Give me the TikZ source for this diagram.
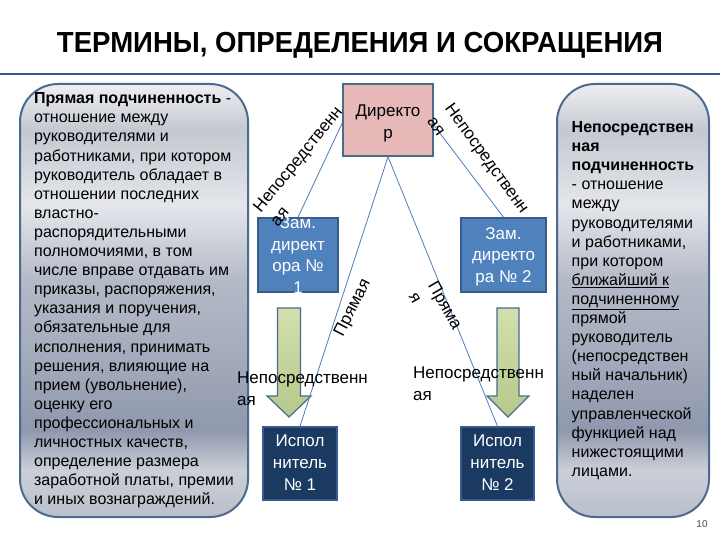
\documentclass[tikz,border=0pt]{standalone}
\usepackage{fontspec}
\setmainfont{Liberation Sans}
\usepackage{graphicx}
\definecolor{boxborder}{HTML}{4A6A8E}
\definecolor{dirfill}{HTML}{E6B9B8}
\definecolor{zamfill}{HTML}{4F81BD}
\definecolor{zamdraw}{HTML}{385D8A}
\definecolor{ispfill}{HTML}{1B3A62}
\definecolor{linkcol}{HTML}{4A7EBB}
\definecolor{arrowtop}{HTML}{D3DFAE}
\definecolor{arrowbot}{HTML}{B5C98A}
\definecolor{rulecol}{HTML}{35598A}
\definecolor{mA}{HTML}{B9BFCB}
\definecolor{mB}{HTML}{CBCFD8}
\definecolor{mC}{HTML}{8F98AD}
\definecolor{mD}{HTML}{A3AABB}
\definecolor{mE}{HTML}{B4BAC7}
\definecolor{mF}{HTML}{E4E6EB}
\definecolor{mG}{HTML}{C4C8D0}
\definecolor{mH}{HTML}{EEEFF2}
\pgfdeclareverticalshading{metal}{100bp}{color(0bp)=(mA); color(25bp)=(mA); color(30.4bp)=(mB); color(35bp)=(mC); color(43.1bp)=(mD); color(52.4bp)=(mE); color(61bp)=(mF); color(69.7bp)=(mG); color(75bp)=(mH); color(100bp)=(mH)}
\newcommand\boxlines[2][-6pt]{\raisebox{#1}[0pt][0pt]{\begin{tabular}{@{}c@{}}#2\end{tabular}}}
\tikzset{
 sidebox/.style={draw=boxborder, line width=2pt, rounded corners=38pt, shade, shading=metal, align=left, font=\fontsize{16}{19.1}\selectfont, inner sep=0pt, minimum height=433pt},
 dirbox/.style={draw=boxborder, line width=1.5pt, fill=dirfill, minimum width=90pt, minimum height=72pt, inner sep=0pt, font=\fontsize{17}{22}\selectfont},
 zambox/.style={draw=zamdraw, line width=1.5pt, fill=zamfill, text=white, inner sep=0pt, minimum height=74pt, font=\fontsize{17}{21.5}\selectfont},
 ispbox/.style={draw=zamdraw, line width=1.5pt, fill=ispfill, text=white, inner sep=0pt, minimum height=73pt, font=\fontsize{17}{22}\selectfont},
 link/.style={draw=linkcol, line width=0.8pt},
 lbl/.style={font=\fontsize{17}{22}\selectfont, align=left, inner sep=0pt},
 greenarrow/.style={draw=boxborder, line width=1.2pt, top color=arrowtop, bottom color=arrowbot},
}
\begin{document}
\begin{tikzpicture}[x=1pt,y=-1pt]
\useasboundingbox (0,0) rectangle (720,540);
% title and rule
\node[anchor=base, inner sep=0pt, font=\bfseries\fontsize{29}{32}\selectfont] (title) at (360,53) {\resizebox{606pt}{\height}{ТЕРМИНЫ, ОПРЕДЕЛЕНИЯ И СОКРАЩЕНИЯ}};
\coordinate (ruleL) at (0,74);
\coordinate (ruleR) at (720,74);
\draw[rulecol, line width=2pt] (ruleL) -- (ruleR);
% side boxes
\node[sidebox, minimum width=228pt] (lb) at (134,300.5) {\textbf{Прямая подчиненность} -\\отношение между\\руководителями и\\работниками, при котором\\руководитель обладает в\\отношении последних\\властно-\\распорядительными\\полномочиями, в том\\числе вправе отдавать им\\приказы, распоряжения,\\указания и поручения,\\обязательные для\\исполнения, принимать\\решения, влияющие на\\прием (увольнение),\\оценку его\\профессиональных и\\личностных качеств,\\определение размера\\заработной платы, премии\\и иных вознаграждений.};
\node[sidebox, minimum width=152pt] (rb) at (633,300.5) {\textbf{Непосредствен}\\\textbf{ная}\\\textbf{подчиненность}\\- отношение\\между\\руководителями\\и работниками,\\при котором\\\underline{ближайший к}\\\underline{подчиненному}\\прямой\\руководитель\\(непосредствен\\ный начальник)\\наделен\\управленческой\\функцией над\\нижестоящими\\лицами.};
% org boxes
\node[dirbox] (dir) at (388,120) {\boxlines[-7.5pt]{Директо\\р}};
\node[zambox, minimum width=80pt] (z1) at (298,255) {\boxlines{Зам.\\директ\\ора №\\1}};
\node[zambox, minimum width=85pt] (z2) at (503.5,255) {\boxlines{Зам.\\директо\\ра № 2}};
\node[ispbox, minimum width=74pt] (i1) at (300,463.5) {\boxlines[-4.75pt]{Испол\\нитель\\№ 1}};
\node[ispbox, minimum width=73pt] (i2) at (497.5,463.5) {\boxlines[-4.75pt]{Испол\\нитель\\№ 2}};
% green block arrows
\draw[greenarrow] (277.5,308) -- (300.5,308) -- (300.5,396) -- (311,396) -- (289,417) -- (267,396) -- (277.5,396) -- cycle;
\draw[greenarrow] (497,308) -- (519,308) -- (519,396) -- (529,396) -- (508,417) -- (487,396) -- (497,396) -- cycle;
% connectors
\draw[link] ([yshift=-3pt]dir.west) -- (z1.north);
\draw[link] ([yshift=-5pt]dir.east) -- (z2.north);
\draw[link] (dir.south) -- (i1.north);
\draw[link] (dir.south) -- (i2.north);
% labels
\node[lbl, rotate=51] (l1) at (306,166) {Непосредственн\\ая};
\node[lbl, rotate=-54] (l2) at (478.5,164.5) {Непосредственн\\ая};
\node[lbl, rotate=63] (l3) at (353,308) {Прямая};
\node[lbl, rotate=-60] (l4) at (436,310.6) {Пряма\\я};
\node[lbl, anchor=north west] (l5) at (237,372) {Непосредственн\\ая};
\node[lbl, anchor=north west] (l6) at (413,367) {Непосредственн\\ая};
% page number
\node[font=\fontsize{10}{12}\selectfont, text=black!70, inner sep=0pt] (pg) at (702,524) {10};
\end{tikzpicture}
\end{document}
